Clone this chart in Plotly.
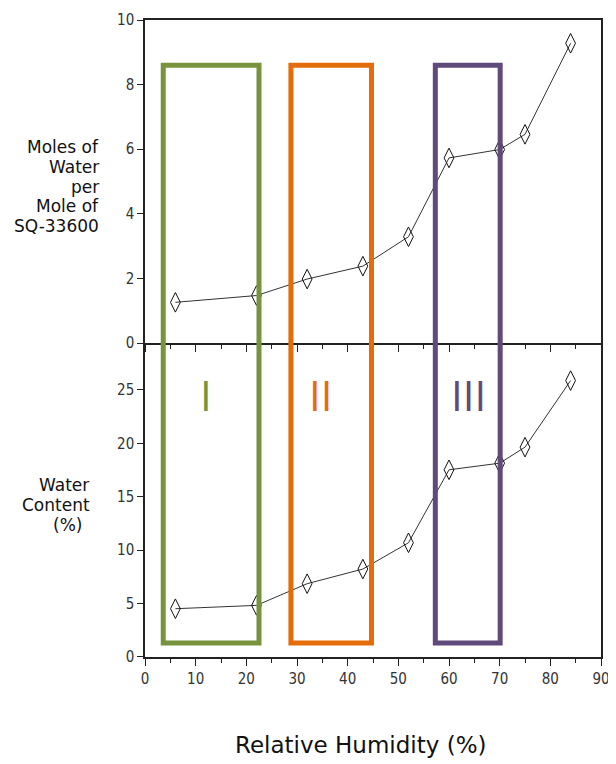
import plotly.graph_objects as go
from plotly.subplots import make_subplots

# Data
rh = [6, 22, 32, 43, 52, 60, 70, 75, 84]
moles_water = [1.26, 1.47, 1.98, 2.38, 3.29, 5.73, 5.99, 6.46, 9.28]
water_content = [4.52, 4.83, 6.86, 8.23, 10.69, 17.52, 18.14, 19.64, 25.87]

x_ticks = [0, 10, 20, 30, 40, 50, 60, 70, 80, 90]
x_minor_ticks = [5, 15, 25, 35, 45, 55, 65, 75, 85]
top_ticks = [0, 2, 4, 6, 8, 10]
bottom_ticks = [0, 5, 10, 15, 20, 25]

region_labels = ["I", "II", "III"]
region_start = [3.6, 28.8, 57.3]
region_end = [22.5, 44.7, 70.1]
region_label_x = [12.0, 34.7, 63.9]
region_colors = ["#77933C", "#E46C0A", "#604A7B"]
region_top = 8.6      # in top-panel units
region_bottom = 1.3   # in bottom-panel units
label_y = 24.6        # in bottom-panel units

top_title_lines = ["Moles of", "Water", "per", "Mole of", "SQ-33600"]
bottom_title_lines = ["Water", "Content", "(%)"]
x_title = "Relative Humidity (%)"

TOP_RANGE = [0, 10]
BOT_RANGE = [0, 29.2]
TOP_DOM = [0.4929, 1.0]
BOT_DOM = [0.0, 0.4898]

# page offset (browser body margin) compensated in figure size/margins
W, H = 608, 756
ML, MR, MT, MB = 137, 15, 12, 107
PW, PH = W - ML - MR, H - MT - MB
OFF = 8

def px_to_paper_x(px):
    return (px - OFF - ML) / PW

def px_to_paper_y(py):
    return (H - MB - (py - OFF)) / PH

tick_font = dict(family="Liberation Sans Narrow, DejaVu Sans Condensed, Arial Narrow, Roboto, sans-serif",
                 size=15, color="#333")
axis_color = "#222"

fig = make_subplots(rows=2, cols=1, shared_xaxes=True, vertical_spacing=0.0)

line_style = dict(color="#333", width=1)
marker_style = dict(symbol="diamond-tall-open", size=14, color="#111", line=dict(width=1, color="#111"))

fig.add_trace(go.Scatter(x=rh, y=moles_water, mode="lines+markers", line=line_style,
                         marker=marker_style, showlegend=False), row=1, col=1)
fig.add_trace(go.Scatter(x=rh, y=water_content, mode="lines+markers", line=line_style,
                         marker=marker_style, showlegend=False), row=2, col=1)

def to_paper(v, rng, dom):
    return dom[0] + (v - rng[0]) / (rng[1] - rng[0]) * (dom[1] - dom[0])

y_top_paper = to_paper(region_top, TOP_RANGE, TOP_DOM)
y_bot_paper = to_paper(region_bottom, BOT_RANGE, BOT_DOM)

for lab, x0, x1, lx, c in zip(region_labels, region_start, region_end, region_label_x, region_colors):
    fig.add_shape(type="rect", xref="x2", yref="paper", x0=x0, x1=x1,
                  y0=y_bot_paper, y1=y_top_paper, line=dict(color=c, width=5),
                  fillcolor="rgba(0,0,0,0)", layer="above")
    fig.add_annotation(x=lx, y=label_y, xref="x2", yref="y2", text=lab,
                       showarrow=False, font=dict(family="Open Sans", size=42, color=c))

common_x = dict(range=[0, 90], tickvals=x_ticks, ticks="outside", ticklen=7, tickwidth=1,
                tickcolor=axis_color, showline=True, linecolor=axis_color, linewidth=1.5,
                mirror=True, showgrid=False, zeroline=False, automargin=False,
                minor=dict(tickvals=x_minor_ticks, ticks="outside", ticklen=4, tickcolor=axis_color))
fig.update_xaxes(**common_x)
fig.update_xaxes(showticklabels=False, row=1, col=1)
fig.update_xaxes(showticklabels=True, tickfont=tick_font, row=2, col=1)

common_y = dict(ticks="outside", ticklen=6, tickcolor=axis_color, showline=True, linecolor=axis_color,
                linewidth=1.5, mirror=True, showgrid=False, zeroline=False, tickfont=tick_font,
                automargin=False)
fig.update_yaxes(range=TOP_RANGE, domain=TOP_DOM, tickvals=top_ticks, row=1, col=1, **common_y)
fig.update_yaxes(range=BOT_RANGE, domain=BOT_DOM, tickvals=bottom_ticks, row=2, col=1, **common_y)

title_font = dict(family="DejaVu Sans", size=17, color="#111")
top_line_y = [147, 166.8, 186.6, 206.4, 226.2]
for txt, py in zip(top_title_lines, top_line_y):
    fig.add_annotation(xref="paper", yref="paper", x=px_to_paper_x(101), y=px_to_paper_y(py),
                       xanchor="right", yanchor="middle", showarrow=False, text=txt, font=title_font)
bot_line_y = [485, 505, 525]
bot_line_x = [91, 92, 84]
for txt, px, py in zip(bottom_title_lines, bot_line_x, bot_line_y):
    fig.add_annotation(xref="paper", yref="paper", x=px_to_paper_x(px), y=px_to_paper_y(py),
                       xanchor="right", yanchor="middle", showarrow=False, text=txt, font=title_font)
fig.add_annotation(xref="paper", yref="paper", x=px_to_paper_x(360), y=px_to_paper_y(745),
                   xanchor="center", yanchor="middle", showarrow=False, text=x_title,
                   font=dict(family="DejaVu Sans", size=23, color="#111"))

fig.update_layout(width=W, height=H, margin=dict(l=ML, r=MR, t=MT, b=MB, autoexpand=False),
                  paper_bgcolor="white", plot_bgcolor="white", showlegend=False)

fig.write_html("out.html")
